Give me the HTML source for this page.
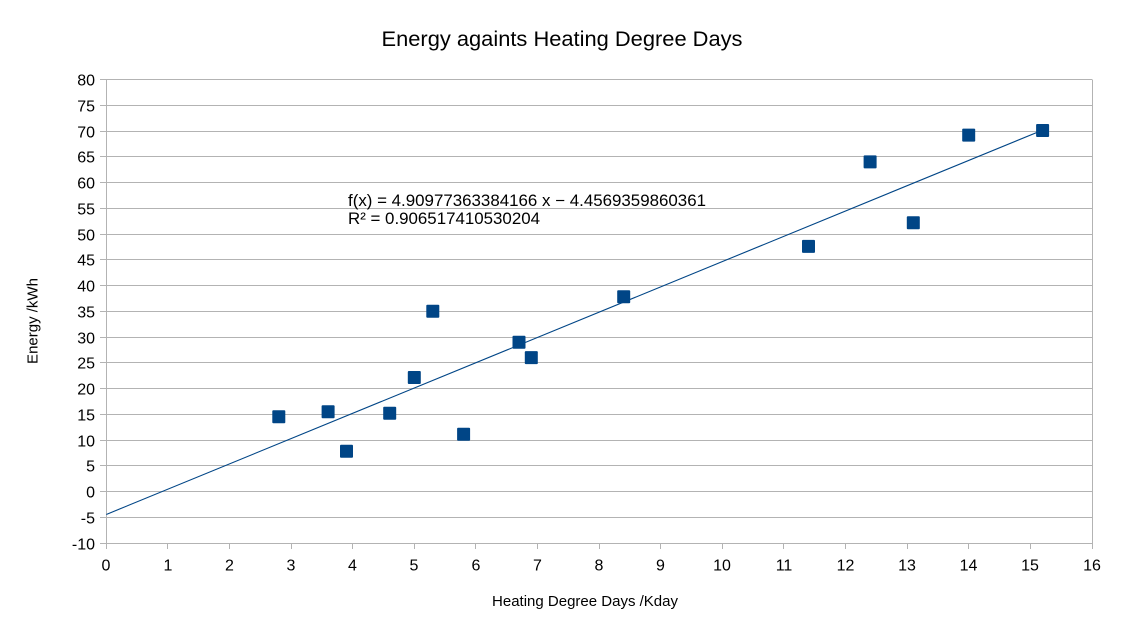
<!DOCTYPE html>
<html>
<head>
<meta charset="utf-8">
<style>
  html, body { margin: 0; padding: 0; background: #ffffff; }
  svg { display: block; }
  text { font-family: "Liberation Sans", Arial, sans-serif; fill: #000; }
</style>
</head>
<body>
<svg width="1125" height="633" viewBox="0 0 1125 633" xmlns="http://www.w3.org/2000/svg">
  <rect x="0" y="0" width="1125" height="633" fill="#ffffff"/>

  <!-- Title -->
  <text x="562" y="46" font-size="21" text-anchor="middle" textLength="361" lengthAdjust="spacingAndGlyphs">Energy againts Heating Degree Days</text>

  <!-- Horizontal gridlines -->
  <g stroke="#b3b3b3" stroke-width="1" shape-rendering="crispEdges">
    <line x1="106" y1="79.5" x2="1092" y2="79.5"/>
    <line x1="106" y1="105.5" x2="1092" y2="105.5"/>
    <line x1="106" y1="131.5" x2="1092" y2="131.5"/>
    <line x1="106" y1="156.5" x2="1092" y2="156.5"/>
    <line x1="106" y1="182.5" x2="1092" y2="182.5"/>
    <line x1="106" y1="208.5" x2="1092" y2="208.5"/>
    <line x1="106" y1="234.5" x2="1092" y2="234.5"/>
    <line x1="106" y1="259.5" x2="1092" y2="259.5"/>
    <line x1="106" y1="285.5" x2="1092" y2="285.5"/>
    <line x1="106" y1="311.5" x2="1092" y2="311.5"/>
    <line x1="106" y1="337.5" x2="1092" y2="337.5"/>
    <line x1="106" y1="362.5" x2="1092" y2="362.5"/>
    <line x1="106" y1="388.5" x2="1092" y2="388.5"/>
    <line x1="106" y1="414.5" x2="1092" y2="414.5"/>
    <line x1="106" y1="440.5" x2="1092" y2="440.5"/>
    <line x1="106" y1="465.5" x2="1092" y2="465.5"/>
    <line x1="106" y1="491.5" x2="1092" y2="491.5"/>
    <line x1="106" y1="517.5" x2="1092" y2="517.5"/>
    <line x1="106" y1="543.5" x2="1092" y2="543.5"/>
    <!-- left axis & right border -->
    <line x1="106.5" y1="79.5" x2="106.5" y2="549"/>
    <line x1="1092.5" y1="79.5" x2="1092.5" y2="549"/>
    <!-- y ticks -->
    <line x1="100" y1="79.5" x2="106" y2="79.5"/>
    <line x1="100" y1="105.5" x2="106" y2="105.5"/>
    <line x1="100" y1="131.5" x2="106" y2="131.5"/>
    <line x1="100" y1="156.5" x2="106" y2="156.5"/>
    <line x1="100" y1="182.5" x2="106" y2="182.5"/>
    <line x1="100" y1="208.5" x2="106" y2="208.5"/>
    <line x1="100" y1="234.5" x2="106" y2="234.5"/>
    <line x1="100" y1="259.5" x2="106" y2="259.5"/>
    <line x1="100" y1="285.5" x2="106" y2="285.5"/>
    <line x1="100" y1="311.5" x2="106" y2="311.5"/>
    <line x1="100" y1="337.5" x2="106" y2="337.5"/>
    <line x1="100" y1="362.5" x2="106" y2="362.5"/>
    <line x1="100" y1="388.5" x2="106" y2="388.5"/>
    <line x1="100" y1="414.5" x2="106" y2="414.5"/>
    <line x1="100" y1="440.5" x2="106" y2="440.5"/>
    <line x1="100" y1="465.5" x2="106" y2="465.5"/>
    <line x1="100" y1="491.5" x2="106" y2="491.5"/>
    <line x1="100" y1="517.5" x2="106" y2="517.5"/>
    <line x1="100" y1="543.5" x2="106" y2="543.5"/>
    <!-- x ticks -->
    <line x1="167.5" y1="543" x2="167.5" y2="549"/>
    <line x1="229.5" y1="543" x2="229.5" y2="549"/>
    <line x1="291.5" y1="543" x2="291.5" y2="549"/>
    <line x1="352.5" y1="543" x2="352.5" y2="549"/>
    <line x1="414.5" y1="543" x2="414.5" y2="549"/>
    <line x1="475.5" y1="543" x2="475.5" y2="549"/>
    <line x1="537.5" y1="543" x2="537.5" y2="549"/>
    <line x1="599.5" y1="543" x2="599.5" y2="549"/>
    <line x1="660.5" y1="543" x2="660.5" y2="549"/>
    <line x1="722.5" y1="543" x2="722.5" y2="549"/>
    <line x1="783.5" y1="543" x2="783.5" y2="549"/>
    <line x1="845.5" y1="543" x2="845.5" y2="549"/>
    <line x1="907.5" y1="543" x2="907.5" y2="549"/>
    <line x1="968.5" y1="543" x2="968.5" y2="549"/>
    <line x1="1030.5" y1="543" x2="1030.5" y2="549"/>
  </g>

  <!-- Y tick labels -->
  <g font-size="16" text-anchor="end">
    <text x="95" y="85.5">80</text>
    <text x="95" y="111.5">75</text>
    <text x="95" y="137.5">70</text>
    <text x="95" y="162.5">65</text>
    <text x="95" y="188.5">60</text>
    <text x="95" y="214.5">55</text>
    <text x="95" y="240.5">50</text>
    <text x="95" y="265.5">45</text>
    <text x="95" y="291.5">40</text>
    <text x="95" y="317.5">35</text>
    <text x="95" y="343.5">30</text>
    <text x="95" y="368.5">25</text>
    <text x="95" y="394.5">20</text>
    <text x="95" y="420.5">15</text>
    <text x="95" y="446.5">10</text>
    <text x="95" y="471.5">5</text>
    <text x="95" y="497.5">0</text>
    <text x="95" y="523.5">-5</text>
    <text x="95" y="549.5">-10</text>
  </g>

  <!-- X tick labels -->
  <g font-size="16" text-anchor="middle">
    <text x="106" y="570.5">0</text>
    <text x="168" y="570.5">1</text>
    <text x="229.5" y="570.5">2</text>
    <text x="291" y="570.5">3</text>
    <text x="352.5" y="570.5">4</text>
    <text x="414" y="570.5">5</text>
    <text x="476" y="570.5">6</text>
    <text x="537.5" y="570.5">7</text>
    <text x="599" y="570.5">8</text>
    <text x="660.5" y="570.5">9</text>
    <text x="722" y="570.5">10</text>
    <text x="784" y="570.5">11</text>
    <text x="845.5" y="570.5">12</text>
    <text x="907" y="570.5">13</text>
    <text x="968.5" y="570.5">14</text>
    <text x="1030" y="570.5">15</text>
    <text x="1092" y="570.5">16</text>
  </g>

  <!-- Axis titles -->
  <text x="585" y="606" font-size="15" text-anchor="middle">Heating Degree Days /Kday</text>
  <text transform="translate(37.5,321) rotate(-90)" font-size="15" text-anchor="middle">Energy /kWh</text>

  <!-- Trend line -->
  <line x1="106.3" y1="514.45" x2="1042.6" y2="130.1" stroke="#004586" stroke-width="1.1"/>

  <!-- Data markers -->
  <g fill="#004586">
    <rect x="272.3" y="410.3" width="13" height="13" rx="1"/>
    <rect x="321.6" y="405.2" width="13" height="13" rx="1"/>
    <rect x="340" y="444.8" width="13" height="13" rx="1"/>
    <rect x="383.2" y="406.7" width="13" height="13" rx="1"/>
    <rect x="407.8" y="371" width="13" height="13" rx="1"/>
    <rect x="426.3" y="304.8" width="13" height="13" rx="1"/>
    <rect x="457.1" y="427.8" width="13" height="13" rx="1"/>
    <rect x="512.5" y="335.7" width="13" height="13" rx="1"/>
    <rect x="524.8" y="351.1" width="13" height="13" rx="1"/>
    <rect x="617.2" y="290.3" width="13" height="13" rx="1"/>
    <rect x="802" y="239.9" width="13" height="13" rx="1"/>
    <rect x="863.6" y="155.4" width="13" height="13" rx="1"/>
    <rect x="906.8" y="216.2" width="13" height="13" rx="1"/>
    <rect x="962.2" y="128.6" width="13" height="13" rx="1"/>
    <rect x="1036.1" y="124" width="13" height="13" rx="1"/>
  </g>

  <!-- Equation -->
  <text x="348" y="206" font-size="16.5" textLength="358" lengthAdjust="spacingAndGlyphs">f(x) = 4.90977363384166 x − 4.4569359860361</text>
  <text x="348" y="224" font-size="16.5" textLength="192" lengthAdjust="spacingAndGlyphs">R² = 0.906517410530204</text>
</svg>
</body>
</html>
